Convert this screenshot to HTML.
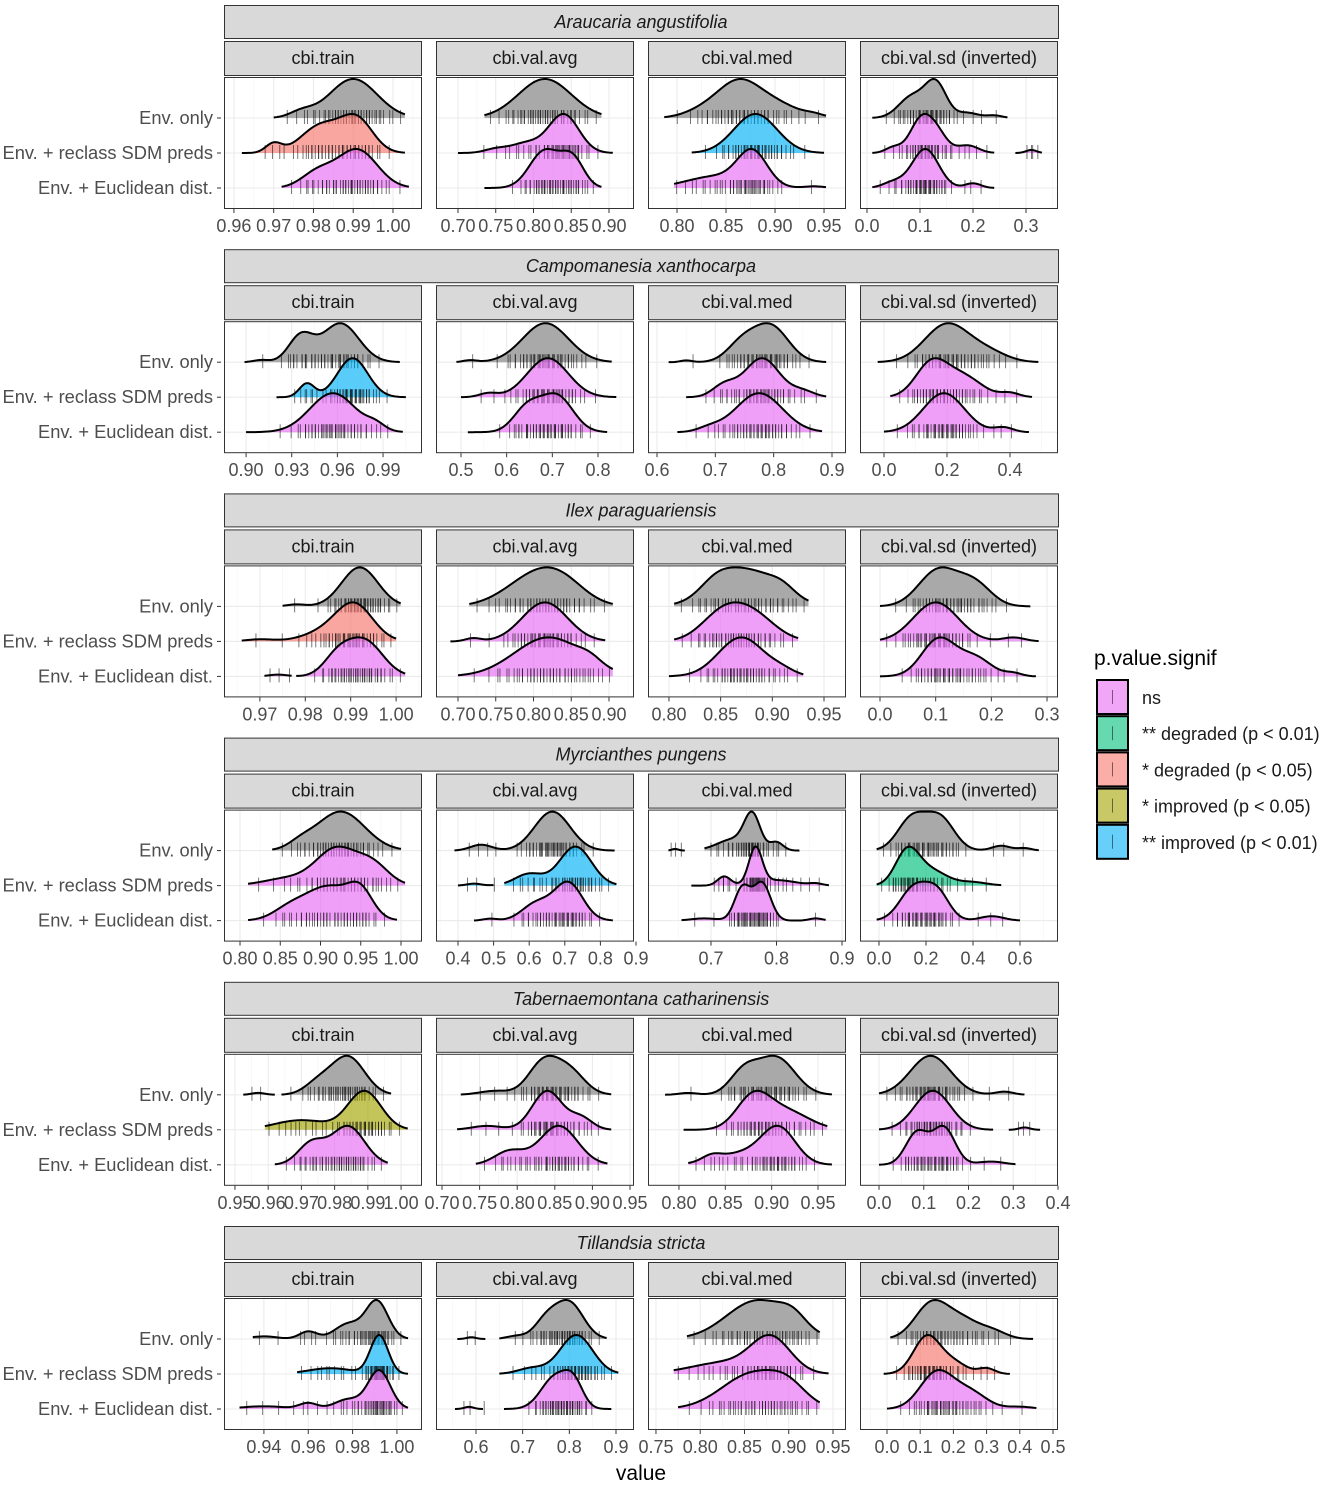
<!DOCTYPE html>
<html><head><meta charset="utf-8">
<style>
body{margin:0;background:#fff;}
svg text{font-family:"Liberation Sans",sans-serif;}
</style></head>
<body>
<svg id="chart" xmlns="http://www.w3.org/2000/svg" width="1325" height="1485" viewBox="0 0 1325 1485">
<rect width="1325" height="1485" fill="#fff"/>
<g id="plots"></g>
<text x="641" y="1480" font-size="21" text-anchor="middle" fill="#000">value</text>
<g>
<text x="1094" y="665" font-size="21" fill="#000">p.value.signif</text>
<g id="legendKeys"></g>
</g>
</svg>
<script>
const species = ["Araucaria angustifolia","Campomanesia xanthocarpa","Ilex paraguariensis","Myrcianthes pungens","Tabernaemontana catharinensis","Tillandsia stricta"];
const metrics = ["cbi.train","cbi.val.avg","cbi.val.med","cbi.val.sd (inverted)"];
const rowLabels = ["Env. only","Env. + reclass SDM preds","Env. + Euclidean dist."];
const signifLabels = ["ns","** degraded (p < 0.01)","* degraded (p < 0.05)","* improved (p < 0.05)","** improved (p < 0.01)"];
const signifColors = ["#E76BF3","#00BF7D","#F8766D","#A3A500","#00B0F6"];
// x domains per [species][metric]
const domains = [
 [[0.9575,1.0073],[0.6709,0.9331],[0.7704,0.9724],[-0.0132,0.3604]],
 [[0.8855,1.0156],[0.4453,0.8788],[0.5846,0.924],[-0.0762,0.5524]],
 [[0.9621,1.0057],[0.6709,0.9331],[0.7797,0.9713],[-0.0359,0.3197]],
 [[0.7801,1.0261],[0.3382,0.8944],[0.6038,0.9061],[-0.0809,0.7617]],
 [[0.9467,1.0063],[0.692,0.9553],[0.7666,0.9802],[-0.0425,0.4]],
 [[0.922,1.0113],[0.5143,0.9386],[0.741,0.9647],[-0.0813,0.5151]]
];
const tickLabels = [
 [["0.96","0.97","0.98","0.99","1.00"],["0.70","0.75","0.80","0.85","0.90"],["0.80","0.85","0.90","0.95"],["0.0","0.1","0.2","0.3"]],
 [["0.90","0.93","0.96","0.99"],["0.5","0.6","0.7","0.8"],["0.6","0.7","0.8","0.9"],["0.0","0.2","0.4"]],
 [["0.97","0.98","0.99","1.00"],["0.70","0.75","0.80","0.85","0.90"],["0.80","0.85","0.90","0.95"],["0.0","0.1","0.2","0.3"]],
 [["0.80","0.85","0.90","0.95","1.00"],["0.4","0.5","0.6","0.7","0.8","0.9"],["0.7","0.8","0.9"],["0.0","0.2","0.4","0.6"]],
 [["0.95","0.96","0.97","0.98","0.99","1.00"],["0.70","0.75","0.80","0.85","0.90","0.95"],["0.80","0.85","0.90","0.95"],["0.0","0.1","0.2","0.3","0.4"]],
 [["0.94","0.96","0.98","1.00"],["0.6","0.7","0.8","0.9"],["0.75","0.80","0.85","0.90","0.95"],["0.0","0.1","0.2","0.3","0.4","0.5"]]
];
// significance category per [species][metric][row]: -1 = Env. only (grey)
const signif = [
 [[-1,2,0],[-1,0,0],[-1,4,0],[-1,0,0]],
 [[-1,4,0],[-1,0,0],[-1,0,0],[-1,0,0]],
 [[-1,2,0],[-1,0,0],[-1,0,0],[-1,0,0]],
 [[-1,0,0],[-1,4,0],[-1,0,0],[-1,1,0]],
 [[-1,3,0],[-1,0,0],[-1,0,0],[-1,0,0]],
 [[-1,4,0],[-1,4,0],[-1,0,0],[-1,2,0]]
];
// value ranges covered by each density [species][metric][row]
const ranges = [
 [[[[0.970,1.003]],[[0.962,1.003]],[[0.972,1.004]]],
  [[[0.735,0.89]],[[0.70,0.905]],[[0.735,0.89]]],
  [[[0.787,0.952]],[[0.815,0.95]],[[0.797,0.952]]],
  [[[0.01,0.265]],[[0.01,0.24],[0.28,0.33]],[[0.01,0.24]]]],
 [[[[0.899,1.001]],[[0.92,1.005]],[[0.90,1.003]]],
  [[[0.49,0.83]],[[0.50,0.84]],[[0.515,0.82]]],
  [[[0.62,0.89]],[[0.65,0.89]],[[0.635,0.883]]],
  [[[-0.02,0.49]],[[0.02,0.47]],[[0.0,0.46]]]],
 [[[[0.975,1.001]],[[0.966,1.0]],[[0.971,0.977],[0.978,1.002]]],
  [[[0.715,0.905]],[[0.69,0.895]],[[0.70,0.905]]],
  [[[0.805,0.935]],[[0.805,0.925]],[[0.80,0.93]]],
  [[[0.0,0.27]],[[0.0,0.285]],[[0.0,0.28]]]],
 [[[[0.84,1.0]],[[0.81,1.005]],[[0.81,0.995]]],
  [[[0.39,0.84]],[[0.40,0.50],[0.53,0.845]],[[0.445,0.835]]],
  [[[0.635,0.66],[0.69,0.835]],[[0.67,0.88]],[[0.655,0.875]]],
  [[[-0.01,0.68]],[[-0.01,0.52]],[[-0.01,0.6]]]],
 [[[[0.9525,0.962],[0.964,0.997]],[[0.959,1.002]],[[0.962,0.996]]],
  [[[0.725,0.925]],[[0.72,0.925]],[[0.745,0.92]]],
  [[[0.785,0.965]],[[0.805,0.96]],[[0.81,0.965]]],
  [[[0.0,0.325]],[[0.0,0.255],[0.29,0.36]],[[0.0,0.305]]]],
 [[[[0.935,1.005]],[[0.955,1.005]],[[0.929,1.005]]],
  [[[0.56,0.62],[0.65,0.88]],[[0.65,0.905]],[[0.555,0.615],[0.66,0.89]]],
  [[[0.785,0.935]],[[0.77,0.945]],[[0.775,0.935]]],
  [[[0.01,0.44]],[[-0.01,0.37]],[[0.0,0.45]]]]
];
// density mixture components [mean, sd, peak weight] per [species][metric][row]
const components = [
 [[[[0.990,0.006,1],[0.977,0.003,0.15]],[[0.970,0.002,0.2],[0.982,0.005,0.6],[0.991,0.004,0.7]],[[0.981,0.004,0.4],[0.991,0.005,1]]],
  [[[0.815,0.035,1]],[[0.75,0.015,0.1],[0.79,0.02,0.25],[0.84,0.02,1]],[[0.815,0.02,0.8],[0.852,0.015,0.6]]],
  [[[0.862,0.02,1],[0.895,0.025,0.55],[0.83,0.02,0.3],[0.94,0.01,0.08]],[[0.88,0.022,1]],[[0.877,0.015,1],[0.84,0.03,0.35],[0.94,0.01,0.05]]],
  [[[0.085,0.025,0.5],[0.13,0.02,0.8],[0.19,0.02,0.12],[0.24,0.015,0.06]],[[0.1,0.02,0.8],[0.13,0.02,0.55],[0.05,0.015,0.15],[0.19,0.02,0.2],[0.31,0.01,0.08]],[[0.11,0.025,1],[0.2,0.015,0.12],[0.05,0.02,0.15]]]],
 [[[[0.936,0.008,0.6],[0.962,0.012,0.9],[0.91,0.005,0.05]],[[0.94,0.005,0.35],[0.97,0.01,1]],[[0.957,0.015,1],[0.985,0.006,0.15]]],
  [[[0.685,0.05,1],[0.52,0.015,0.05]],[[0.69,0.045,1],[0.56,0.02,0.1]],[[0.645,0.03,0.6],[0.71,0.035,0.9]]],
  [[[0.745,0.025,0.5],[0.795,0.03,1],[0.65,0.01,0.05]],[[0.715,0.02,0.3],[0.78,0.03,1],[0.85,0.02,0.15]],[[0.775,0.04,1],[0.69,0.02,0.1]]],
  [[[0.2,0.07,1],[0.33,0.06,0.25]],[[0.15,0.05,0.8],[0.25,0.06,0.5],[0.40,0.03,0.1]],[[0.19,0.065,1],[0.38,0.03,0.12]]]],
 [[[[0.992,0.004,1],[0.978,0.002,0.05]],[[0.991,0.004,1],[0.985,0.005,0.3],[0.970,0.003,0.06]],[[0.993,0.004,1],[0.987,0.003,0.5],[0.974,0.002,0.05]]],
  [[[0.805,0.04,1],[0.84,0.03,0.4]],[[0.815,0.03,1],[0.72,0.01,0.08]],[[0.82,0.045,1],[0.875,0.015,0.15]]],
  [[[0.875,0.03,1],[0.845,0.015,0.3],[0.91,0.012,0.2]],[[0.85,0.02,0.8],[0.88,0.022,0.9]],[[0.87,0.022,1],[0.91,0.012,0.12]]],
  [[[0.105,0.035,1],[0.17,0.03,0.6]],[[0.10,0.04,1],[0.24,0.02,0.1]],[[0.105,0.03,1],[0.17,0.03,0.5],[0.24,0.015,0.08]]]],
 [[[[0.925,0.03,1],[0.875,0.015,0.15]],[[0.92,0.025,1],[0.965,0.02,0.55],[0.86,0.03,0.2]],[[0.91,0.03,0.9],[0.95,0.015,0.6],[0.86,0.02,0.25]]],
  [[[0.665,0.05,1],[0.465,0.03,0.15]],[[0.73,0.045,1],[0.6,0.04,0.3],[0.445,0.02,0.05]],[[0.71,0.04,1],[0.62,0.04,0.45],[0.49,0.02,0.05]]],
  [[[0.763,0.012,1],[0.735,0.025,0.35],[0.8,0.01,0.25],[0.645,0.005,0.05]],[[0.768,0.01,1],[0.72,0.01,0.25],[0.8,0.03,0.15],[0.86,0.01,0.05]],[[0.748,0.012,0.75],[0.778,0.013,0.85],[0.86,0.01,0.05],[0.69,0.02,0.05]]],
  [[[0.14,0.06,0.8],[0.26,0.06,0.8],[0.52,0.04,0.12],[0.62,0.03,0.06]],[[0.12,0.05,1],[0.22,0.07,0.45],[0.4,0.06,0.1]],[[0.15,0.06,0.9],[0.25,0.05,0.7],[0.48,0.05,0.12]]]],
 [[[[0.984,0.005,1],[0.975,0.004,0.3],[0.957,0.002,0.05]],[[0.989,0.005,1],[0.97,0.008,0.25]],[[0.984,0.005,0.9],[0.973,0.004,0.5]]],
  [[[0.835,0.02,1],[0.87,0.02,0.7],[0.77,0.02,0.12]],[[0.84,0.02,1],[0.885,0.015,0.3],[0.76,0.02,0.1]],[[0.855,0.025,1],[0.79,0.02,0.35]]],
  [[[0.905,0.02,1],[0.87,0.015,0.6],[0.81,0.01,0.05]],[[0.88,0.018,1],[0.915,0.025,0.6]],[[0.908,0.018,1],[0.87,0.03,0.35],[0.835,0.01,0.15]]],
  [[[0.115,0.045,1],[0.28,0.02,0.08]],[[0.12,0.04,1],[0.325,0.012,0.06]],[[0.085,0.025,0.7],[0.145,0.025,0.8],[0.25,0.03,0.07]]]],
 [[[[0.991,0.005,1],[0.978,0.006,0.4],[0.96,0.004,0.2],[0.94,0.006,0.07]],[[0.992,0.004,1],[0.97,0.01,0.15]],[[0.992,0.005,1],[0.978,0.006,0.25],[0.96,0.004,0.15],[0.94,0.01,0.07]]],
  [[[0.80,0.03,1],[0.75,0.025,0.5],[0.685,0.02,0.08],[0.59,0.01,0.05]],[[0.815,0.035,1],[0.72,0.03,0.15]],[[0.77,0.03,0.9],[0.81,0.02,0.6],[0.585,0.01,0.06]]],
  [[[0.865,0.035,1],[0.905,0.015,0.3]],[[0.88,0.022,1],[0.83,0.04,0.35]],[[0.86,0.035,1],[0.9,0.02,0.4]]],
  [[[0.135,0.05,1],[0.23,0.05,0.5],[0.32,0.04,0.2]],[[0.12,0.04,1],[0.2,0.04,0.3],[0.3,0.025,0.15]],[[0.15,0.05,1],[0.25,0.05,0.45],[0.4,0.04,0.06]]]]
];

const NS="http://www.w3.org/2000/svg";
function mk(tag, attrs, parent){const e=document.createElementNS(NS,tag);for(const k in attrs)e.setAttribute(k,attrs[k]);if(parent)parent.appendChild(e);return e;}
const root=document.getElementById('plots');
const colX=[224,436,648,860], panelW=198, blockStep=244.2;
const rowOff=[41,76,111], peakH=39;
function dens(comps,x){let s=0;for(const c of comps){const z=(x-c[0])/c[1];s+=c[2]*Math.exp(-0.5*z*z);}return s;}

species.forEach((sp,si)=>{
  const top=5+si*blockStep;
  const g=mk('g',{},root);
  
  
  const ss=mk('rect',{x:224.5,y:top+0.5,width:834,height:33,fill:'#d9d9d9',stroke:'#333','stroke-width':1},g);
  
  
  const st=mk('text',{x:641,y:top+23,'font-size':18,'font-style':'italic','text-anchor':'middle',fill:'#1a1a1a'},g);
  st.textContent=sp;
  
  
  const pTop=top+72, pH=132;
  rowLabels.forEach((rl,ri)=>{
    const t=mk('text',{x:213,y:pTop+rowOff[ri]+6,'font-size':18.3,'text-anchor':'end',fill:'#4d4d4d'},g);
    t.textContent=rl;
    
    
    mk('line',{x1:217,x2:221,y1:pTop+rowOff[ri],y2:pTop+rowOff[ri],stroke:'#333','stroke-width':1},g);
  });
  metrics.forEach((m,mi)=>{
    const x0=colX[mi];
    const fs=mk('rect',{x:x0+0.5,y:top+36.5,width:panelW-1,height:34,fill:'#d9d9d9',stroke:'#333','stroke-width':1},g);
    
    
    const ft=mk('text',{x:x0+panelW/2,y:top+59,'font-size':18,'text-anchor':'middle',fill:'#1a1a1a'},g);
    ft.textContent=m;
    
    
    const dom=domains[si][mi];
    const sx=v=>x0+(v-dom[0])/(dom[1]-dom[0])*panelW;
    const pg=mk('g',{},g);
    
    
    mk('rect',{x:x0,y:pTop,width:panelW,height:pH,fill:'#fff'},pg);
    const cp='cp'+si+'_'+mi;
    const clip=mk('clipPath',{id:cp},pg);
    mk('rect',{x:x0,y:pTop,width:panelW,height:pH},clip);
    const inner=mk('g',{'clip-path':'url(#'+cp+')'},pg);
    const tv=tickLabels[si][mi].map(Number);
    const step=tv[1]-tv[0];
    for(let k=-20;k<60;k++){
      const v=tv[0]+(k/2)*step;
      if(v<dom[0]||v>dom[1])continue;
      const major=k%2===0;
      mk('line',{x1:sx(v),x2:sx(v),y1:pTop,y2:pTop+pH,stroke:major?'#ebebeb':'#f4f4f4','stroke-width':major?1.1:0.6},inner);
    }
    rowOff.forEach(o=>mk('line',{x1:x0,x2:x0+panelW,y1:pTop+o,y2:pTop+o,stroke:'#ebebeb','stroke-width':1.1},inner));
    for(let ri=0;ri<3;ri++){
      const comps=components[si][mi][ri], rg=ranges[si][mi][ri], cat=signif[si][mi][ri];
      const base=pTop+rowOff[ri];
      let mx=0; const segs=[];
      rg.forEach(r=>{const pts=[];const n=80;for(let i=0;i<=n;i++){const v=r[0]+(r[1]-r[0])*i/n;const d=dens(comps,v);mx=Math.max(mx,d);pts.push([v,d]);}segs.push(pts);});
      const fill=cat<0?'#a9a9a9':signifColors[cat];
      const op=cat<0?1:0.65;
      const rgp=mk('g',{},inner);
      
      
      const all=[];segs.forEach(p=>p.forEach(q=>all.push(q)));
      const tot=all.reduce((a,q)=>a+q[1],0);
      const nr=45;let acc=0,qi=0;
      segs.forEach(p=>{
        const d='M'+p.map(q=>sx(q[0]).toFixed(2)+','+(base-q[1]/mx*peakH).toFixed(2)).join('L');
        mk('path',{d:d+'L'+sx(p[p.length-1][0]).toFixed(2)+','+base+'L'+sx(p[0][0]).toFixed(2)+','+base+'Z',fill:fill,'fill-opacity':op,stroke:'none'},rgp);
      });
      const rug=mk('g',{},rgp);
      
      
      all.forEach(q=>{acc+=q[1];while(qi<nr&&acc>=tot*(qi+0.5)/nr){const X=sx(q[0])+((qi*7)%5-2)*0.6;mk('line',{x1:X,x2:X,y1:base-8,y2:base+6,stroke:'#000','stroke-opacity':0.6,'stroke-width':0.9},rug);qi++;}});
      segs.forEach(p=>{
        const d='M'+p.map(q=>sx(q[0]).toFixed(2)+','+(base-q[1]/mx*peakH).toFixed(2)).join('L');
        mk('path',{d:d,fill:'none',stroke:'#000','stroke-width':2,'stroke-linejoin':'round'},rgp);
      });
    }
    mk('rect',{x:x0+0.5,y:pTop+0.5,width:panelW-1,height:pH-1,fill:'none',stroke:'#333','stroke-width':1},pg);
    tickLabels[si][mi].forEach(l=>{
      const v=Number(l);const X=sx(v);
      mk('line',{x1:X,x2:X,y1:pTop+pH,y2:pTop+pH+4,stroke:'#333','stroke-width':1},pg);
      const t=mk('text',{x:X,y:pTop+pH+23,'font-size':18,'text-anchor':'middle',fill:'#4d4d4d'},pg);
      t.textContent=l;
      
      
    });
  });
});
const lk=document.getElementById('legendKeys');
signifLabels.forEach((l,i)=>{
  const y=680+i*36.2;
  const kg=mk('g',{},lk);
  
  
  mk('rect',{x:1097,y:y,width:31,height:34,fill:'#fff'},kg);
  mk('rect',{x:1097,y:y,width:31,height:34,fill:signifColors[i],'fill-opacity':0.6,stroke:'#000','stroke-width':2},kg);
  mk('line',{x1:1112.5,x2:1112.5,y1:y+10,y2:y+24,stroke:'#000','stroke-opacity':0.5,'stroke-width':1},kg);
  const t=mk('text',{x:1142,y:y+24,'font-size':18,fill:'#1a1a1a'},kg);
  t.textContent=l;
});
</script>
</body></html>
